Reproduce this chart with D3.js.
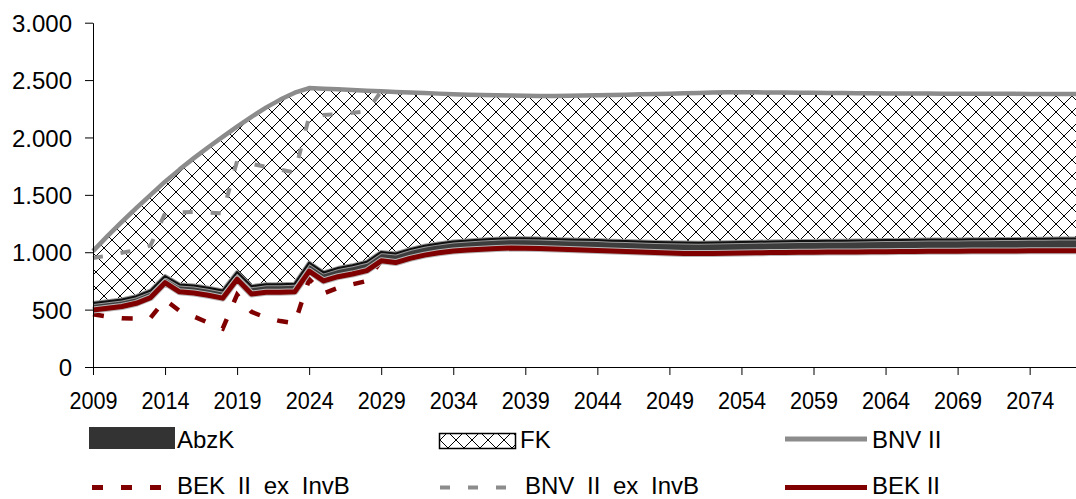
<!DOCTYPE html>
<html><head><meta charset="utf-8">
<script src="https://cdn.jsdelivr.net/npm/d3@7"></script>
<style>
body{margin:0;background:#fff}
svg{display:block;font-family:"Liberation Sans",Arial,sans-serif}
</style>
</head><body>
<svg id="c" width="1076" height="499"></svg>
<script>
// ---------- DATA ----------
const years = d3.range(2009, 2079); // 2009 .. 2078

const bnvII = [1010,1140,1265,1385,1500,1615,1720,1820,1915,2005,
  2095,2180,2260,2330,2390,2430,2425,2420,2414,2408,
  2402,2397,2392,2387,2382,2377,2373,2370,2367,2365,
  2363,2362,2362,2363,2365,2367,2370,2373,2376,2379,
  2382,2385,2388,2391,2394,2394,2393,2392,2391,2390,
  2389,2388,2387,2386,2385,2384,2384,2383,2383,2382,
  2382,2381,2381,2380,2380,2379,2379,2378,2378,2377];

const bekII = [497,512,527,555,605,735,655,645,625,600,
  765,636,652,652,655,835,750,787,810,840,
  925,910,947,975,995,1010,1019,1027,1033,1036,
  1035,1032,1028,1024,1020,1016,1011,1006,1001,997,
  993,990,989,989,991,993,995,997,998,999,
  1000,1001,1002,1003,1004,1005,1006,1007,1008,1008,
  1009,1010,1010,1011,1011,1012,1012,1013,1013,1013];

const abzK = [60,60,61,62,62,58,64,65,66,66,
  62,68,69,70,71,75,74,75,76,77,
  78,79,80,81,82,83,84,84,85,86,
  86,87,88,88,89,90,90,91,92,92,
  93,94,94,95,95,96,96,97,97,98,
  98,99,99,100,100,101,101,102,102,103,
  103,104,104,104,105,105,105,106,106,106];

// "ex InvB" series (after 2029 they coincide with the solid series)
const bekExInvB = [460,440,425,422,430,585,490,440,385,335,
  630,480,430,400,380,765,640,690,720,750,925];
const bnvExInvB = [950,970,995,1020,1060,1340,1348,1350,1345,1340,
  1795,1770,1745,1720,1695,2180,2195,2205,2215,2228,2402];

const xTickYears = [2009,2014,2019,2024,2029,2034,2039,2044,2049,2054,2059,2064,2069,2074];
const yTickValues = [0,500,1000,1500,2000,2500,3000];
const yTickLabels = ["0","500","1.000","1.500","2.000","2.500","3.000"];

// ---------- CHART ----------
const svg = d3.select("#c");
const x0 = 93, step = 14.41;
const x = d3.scaleLinear().domain([2009, 2078]).range([x0, x0 + 69 * step]);
const y = d3.scaleLinear().domain([0, 3000]).range([367, 22.7]);

const defs = svg.append("defs");
const pat = defs.append("pattern").attr("id","hatch").attr("patternUnits","userSpaceOnUse")
  .attr("width",16).attr("height",16);
pat.append("rect").attr("width",16).attr("height",16).attr("fill","#fff");
pat.append("path").attr("d","M-4,-4L20,20M20,-4L-4,20")
  .attr("stroke","#000").attr("stroke-width",1).attr("fill","none")
  .attr("shape-rendering","crispEdges");

const rows = years.map((yr,i)=>({yr, bnv:bnvII[i], bek:bekII[i], abz:abzK[i]}));

// FK hatch band (between top of AbzK and BNV II)
svg.append("path").datum(rows)
  .attr("d", d3.area().x(d=>x(d.yr)).y0(d=>y(d.bek + d.abz)).y1(d=>y(d.bnv)))
  .attr("fill","url(#hatch)");

// AbzK dark band
svg.append("path").datum(rows)
  .attr("d", d3.area().x(d=>x(d.yr)).y0(d=>y(d.bek)).y1(d=>y(d.bek + d.abz)))
  .attr("fill","#3d3d3d");
const topEdge = d3.line().x(d=>x(d.yr)).y(d=>y(d.bek + d.abz));
svg.append("path").datum(rows).attr("d", topEdge)
  .attr("fill","none").attr("stroke","#9a9a9a").attr("stroke-width",4).attr("stroke-linejoin","round");
svg.append("path").datum(rows).attr("d", topEdge)
  .attr("fill","none").attr("stroke","#111").attr("stroke-width",2).attr("stroke-linejoin","round");

// dashed "ex InvB" lines
const exRows = bekExInvB.map((v,i)=>({yr:years[i], bek:v, bnv:bnvExInvB[i]}));
svg.append("path").datum(exRows)
  .attr("d", d3.line().x(d=>x(d.yr)).y(d=>y(d.bek)))
  .attr("fill","none").attr("stroke","#800000").attr("stroke-width",4.5)
  .attr("stroke-dasharray","11,18");
svg.append("path").datum(exRows)
  .attr("d", d3.line().x(d=>x(d.yr)).y(d=>y(d.bnv)))
  .attr("fill","none").attr("stroke","#8c8c8c").attr("stroke-width",4)
  .attr("stroke-dasharray","10,18");

// BNV II solid gray
svg.append("path").datum(rows)
  .attr("d", d3.line().x(d=>x(d.yr)).y(d=>y(d.bnv)))
  .attr("fill","none").attr("stroke","#8c8c8c").attr("stroke-width",4.5).attr("stroke-linejoin","round");

// BEK II solid red (with soft halo)
const bekLine = d3.line().x(d=>x(d.yr)).y(d=>y(d.bek));
svg.append("path").datum(rows).attr("d", bekLine)
  .attr("fill","none").attr("stroke","#b8b8b8").attr("stroke-width",7).attr("stroke-linejoin","round");
svg.append("path").datum(rows).attr("d", bekLine)
  .attr("fill","none").attr("stroke","#800000").attr("stroke-width",5).attr("stroke-linejoin","round");

// ---------- AXES ----------
const yAx = svg.append("g").attr("transform",`translate(${x0},0)`)
  .call(d3.axisLeft(y).tickValues(yTickValues).tickSize(8).tickSizeOuter(0)
    .tickFormat((d,i)=>yTickLabels[i]));
yAx.selectAll("text").attr("font-size",24).attr("fill","#000")
  .attr("x",-21).attr("dy","0.36em")
  .attr("font-family","'Liberation Sans',Arial,sans-serif");

const sx = 0.9;
const xAx = svg.append("g").attr("transform",`translate(0,${y(0)})`)
  .call(d3.axisBottom(x).tickValues(xTickYears).tickSize(8).tickSizeOuter(0)
    .tickFormat(d=>String(d)));
xAx.selectAll("text").attr("font-size",24).attr("fill","#000")
  .attr("transform",`scale(${sx},1)`).attr("y",42).attr("dy",0)
  .attr("font-family","'Liberation Sans',Arial,sans-serif");
svg.selectAll(".domain, .tick line").attr("stroke","#000").attr("stroke-width",1);

// ---------- LEGEND ----------
const lg = svg.append("g").attr("font-size",24).attr("fill","#000");
// AbzK
lg.append("rect").attr("x",89).attr("y",427).attr("width",86).attr("height",22).attr("fill","#333");
lg.append("text").attr("x",177).attr("y",448).text("AbzK");
// FK
lg.append("rect").attr("x",439.5).attr("y",433.5).attr("width",76).attr("height",15)
  .attr("fill","url(#hatch)").attr("stroke","#000").attr("stroke-width",1.5);
lg.append("text").attr("x",520).attr("y",448).text("FK");
// BNV II
lg.append("line").attr("x1",785).attr("x2",867).attr("y1",439).attr("y2",439)
  .attr("stroke","#8c8c8c").attr("stroke-width",5);
lg.append("text").attr("x",872).attr("y",448).text("BNV II");
// BEK II ex InvB
lg.append("line").attr("x1",92).attr("x2",165).attr("y1",487.5).attr("y2",487.5)
  .attr("stroke","#800000").attr("stroke-width",5).attr("stroke-dasharray","11,18");
lg.append("text").attr("x",177).attr("y",494).attr("word-spacing","6px").text("BEK II ex InvB");
// BNV II ex InvB
lg.append("line").attr("x1",440).attr("x2",515).attr("y1",487.5).attr("y2",487.5)
  .attr("stroke","#8c8c8c").attr("stroke-width",4).attr("stroke-dasharray","10,18");
lg.append("text").attr("x",525).attr("y",494).attr("word-spacing","6px").text("BNV II ex InvB");
// BEK II
lg.append("line").attr("x1",785).attr("x2",867).attr("y1",487.5).attr("y2",487.5)
  .attr("stroke","#800000").attr("stroke-width",5);
lg.append("text").attr("x",872).attr("y",494).text("BEK II");
</script>
</body></html>
